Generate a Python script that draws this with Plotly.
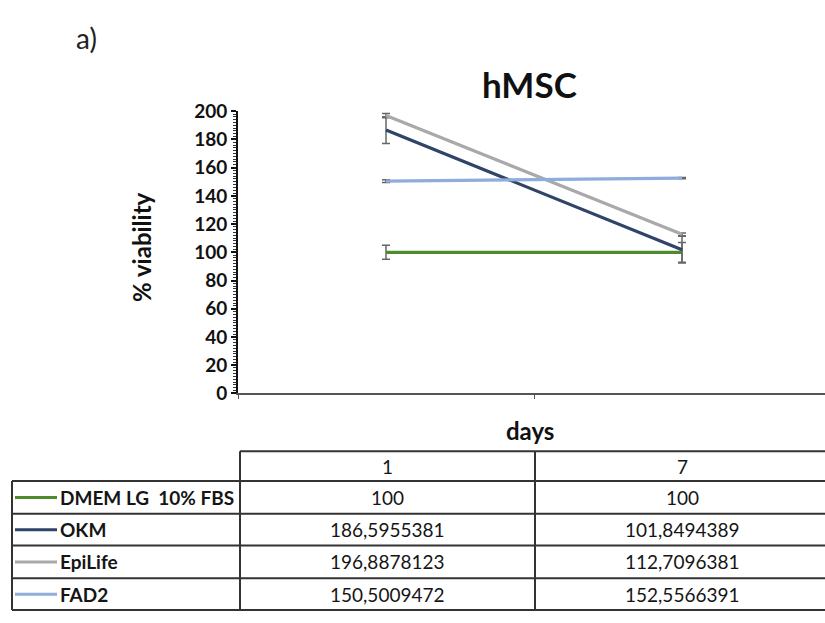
import plotly.graph_objects as go

# ---- data ----
days = ["1", "7"]
series_names = ["DMEM LG  10% FBS", "OKM", "EpiLife", "FAD2"]
dmem = [100.0, 100.0]
okm = [186.5955381, 101.8494389]
epilife = [196.8878123, 112.7096381]
fad2 = [150.5009472, 152.5566391]
dmem_err = [5.0, 7.0]
okm_err = [9.5, 9.5]
epilife_err = [1.5, 1.0]
fad2_err = [1.0, 0.5]
y_ticks = [0, 20, 40, 60, 80, 100, 120, 140, 160, 180, 200]

series_values = [dmem, okm, epilife, fad2]
series_errors = [dmem_err, okm_err, epilife_err, fad2_err]
colors = ["#4f8a2c", "#2f4468", "#a9a9a9", "#8eacdc"]

W, H = 825, 623
FONT = "Lato"


def px(x):
    return x / W


def py(y):
    return 1 - y / H


def fmt(v):
    if float(v).is_integer():
        return str(int(v))
    return f"{v:.7f}".replace(".", ",")


fig = go.Figure()
for name, vals, errs, col in zip(series_names, series_values, series_errors, colors):
    fig.add_trace(go.Scatter(
        x=days, y=vals, name=name, mode="lines",
        line=dict(color=col, width=3.2),
        error_y=dict(type="data", array=errs, visible=True,
                     color="#666666", thickness=1.5, width=4),
        showlegend=False,
    ))

shapes = []
annotations = []

# ---- table geometry (pixels) ----
col_x = [12, 240, 535, 830]
row_y = [456, 487, 521, 554, 588, 621]
line_style = dict(color="#333333", width=2)

shapes.append(dict(type="line", xref="paper", yref="paper",
                   x0=px(col_x[1]), x1=px(col_x[3]), y0=py(row_y[0]), y1=py(row_y[0]), line=line_style))
for yy in row_y[1:]:
    shapes.append(dict(type="line", xref="paper", yref="paper",
                       x0=px(col_x[0]), x1=px(col_x[3]), y0=py(yy), y1=py(yy), line=line_style))
shapes.append(dict(type="line", xref="paper", yref="paper",
                   x0=px(col_x[0]), x1=px(col_x[0]), y0=py(row_y[1]), y1=py(row_y[-1]), line=line_style))
for xx in col_x[1:3]:
    shapes.append(dict(type="line", xref="paper", yref="paper",
                       x0=px(xx), x1=px(xx), y0=py(row_y[0]), y1=py(row_y[-1]), line=line_style))

TXT = "#151515"
for j, d in enumerate(days):
    cx = (col_x[j + 1] + col_x[j + 2]) / 2
    cy = (row_y[0] + row_y[1]) / 2
    annotations.append(dict(x=px(cx), y=py(cy), xref="paper", yref="paper", text=d,
                            showarrow=False, font=dict(family=FONT, size=19, color=TXT),
                            xanchor="center", yanchor="middle"))

for i, (name, vals, col) in enumerate(zip(series_names, series_values, colors)):
    cy = (row_y[i + 1] + row_y[i + 2]) / 2
    shapes.append(dict(type="line", xref="paper", yref="paper",
                       x0=px(15), x1=px(57), y0=py(cy), y1=py(cy),
                       line=dict(color=col, width=3)))
    label = name.replace("  ", " &nbsp;")
    annotations.append(dict(x=px(58), y=py(cy), xref="paper", yref="paper", text=f"<b>{label}</b>",
                            showarrow=False, font=dict(family=FONT, size=19, color=TXT),
                            xanchor="left", yanchor="middle"))
    for j, v in enumerate(vals):
        cx = (col_x[j + 1] + col_x[j + 2]) / 2
        annotations.append(dict(x=px(cx), y=py(cy), xref="paper", yref="paper", text=fmt(v),
                                showarrow=False, font=dict(family=FONT, size=19, color=TXT),
                                xanchor="center", yanchor="middle"))

annotations.append(dict(x=px(86), y=py(27), xref="paper", yref="paper", text="a)",
                        showarrow=False, font=dict(family=FONT, size=28, color="#222222"),
                        xanchor="center", yanchor="middle"))
annotations.append(dict(x=px(529), y=py(75), xref="paper", yref="paper", text="<b>hMSC</b>",
                        showarrow=False, font=dict(family=FONT, size=35, color="#111111"),
                        xanchor="center", yanchor="middle"))
annotations.append(dict(x=px(530), y=py(435), xref="paper", yref="paper", text="<b>days</b>",
                        showarrow=False, font=dict(family=FONT, size=24, color="#111111"),
                        xanchor="center", yanchor="middle"))
annotations.append(dict(x=px(142), y=py(244), xref="paper", yref="paper", text="<b>% viability</b>",
                        showarrow=False, textangle=-90, font=dict(family=FONT, size=24, color="#111111"),
                        xanchor="center", yanchor="middle"))

x_left, x_unit = 238, 296.0
fig.update_layout(
    width=W, height=H,
    margin=dict(l=0, r=0, t=0, b=0),
    paper_bgcolor="white", plot_bgcolor="white",
    shapes=shapes, annotations=annotations,
    xaxis=dict(
        type="category", domain=[px(238), 1.0],
        range=[-0.5, -0.5 + (W - x_left) / x_unit],
        showgrid=False, zeroline=False, showline=True, linecolor="#555555", linewidth=2,
        showticklabels=False, ticks="outside", tickson="boundaries", ticklen=4, tickcolor="#555555",
    ),
    yaxis=dict(
        domain=[py(396), py(103)], range=[0, 200],
        tickvals=y_ticks, ticktext=[f"<b>{t}</b>" for t in y_ticks],
        showgrid=False, zeroline=False, showline=True, linecolor="#111111", linewidth=2,
        ticks="outside", ticklen=5, tickwidth=1.5, tickcolor="#111111",
        minor=dict(dtick=2, ticks="outside", ticklen=3, tickcolor="#333333", tickwidth=1),
        tickfont=dict(family=FONT, size=19, color="#111111"),
    ),
)

fig.write_html("out.html")
